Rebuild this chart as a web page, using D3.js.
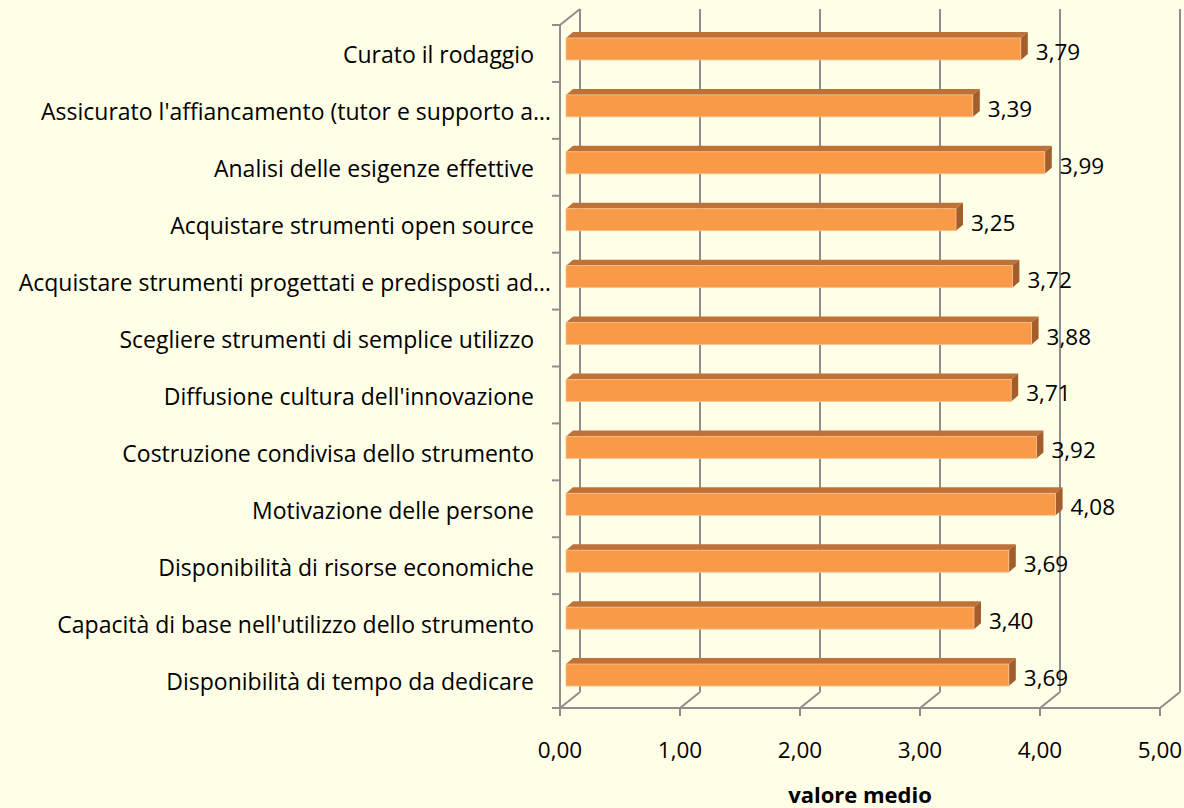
<!DOCTYPE html>
<html>
<head>
<meta charset="utf-8">
<script src="https://cdn.jsdelivr.net/npm/d3@7"></script>
<style>
  body { margin: 0; background: #FFFFE8; }
  text { font-family: "Open Sans", "Noto Sans", sans-serif; fill: #000; }
</style>
</head>
<body>
<div id="plot"></div>
<script>
// data, top to bottom as in the chart
const categories = [
  "Curato il rodaggio",
  "Assicurato l'affiancamento (tutor e supporto a…",
  "Analisi delle esigenze effettive",
  "Acquistare strumenti open source",
  "Acquistare strumenti progettati e predisposti ad…",
  "Scegliere strumenti di semplice utilizzo",
  "Diffusione cultura dell'innovazione",
  "Costruzione condivisa dello strumento",
  "Motivazione delle persone",
  "Disponibilità di risorse economiche",
  "Capacità di base nell'utilizzo dello strumento",
  "Disponibilità di tempo da dedicare"
];
const values = [3.79, 3.39, 3.99, 3.25, 3.72, 3.88, 3.71, 3.92, 4.08, 3.69, 3.40, 3.69];
const xTicks = [0, 1, 2, 3, 4, 5];
const axisTitle = "valore medio";

const w = 1184, h = 808;
const depth = {dx: 20, dy: -16};   // back wall offset
const barDepth = {dx: 7, dy: -6};

const svg = d3.select("#plot").append("svg")
  .attr("width", w).attr("height", h);

svg.append("rect").attr("width", w).attr("height", h).attr("fill", "#FFFFE8");

const x = d3.scaleLinear().domain([0, 5]).range([560, 1160]);
const y = d3.scaleBand().domain(categories).range([25, 708]);

const fmt = v => d3.format(".2f")(v).replace(".", ",");
const grid = "#8E8E8E";

// back wall gridlines
svg.append("g").selectAll("line").data(xTicks).enter().append("line")
  .attr("x1", d => x(d) + depth.dx).attr("x2", d => x(d) + depth.dx)
  .attr("y1", 25 + depth.dy).attr("y2", 708 + depth.dy)
  .attr("stroke", grid).attr("stroke-width", 2);

// floor diagonals
svg.append("g").selectAll("line").data(xTicks).enter().append("line")
  .attr("x1", d => x(d)).attr("x2", d => x(d) + depth.dx)
  .attr("y1", 708).attr("y2", 708 + depth.dy)
  .attr("stroke", grid).attr("stroke-width", 2);

// top-left diagonal of the side wall
svg.append("line")
  .attr("x1", x(0)).attr("y1", 25).attr("x2", x(0) + depth.dx).attr("y2", 25 + depth.dy)
  .attr("stroke", grid).attr("stroke-width", 2);

// front axes
svg.append("line").attr("x1", 560).attr("x2", 560).attr("y1", 25).attr("y2", 709)
  .attr("stroke", grid).attr("stroke-width", 2);
svg.append("line").attr("x1", 559).attr("x2", 1160).attr("y1", 708).attr("y2", 708)
  .attr("stroke", grid).attr("stroke-width", 2);

// category ticks
const yTickPos = d3.range(categories.length + 1).map(i => y.range()[0] + i * y.step());
svg.append("g").selectAll("line").data(yTickPos).enter().append("line")
  .attr("x1", 552).attr("x2", 560).attr("y1", d => d).attr("y2", d => d)
  .attr("stroke", grid).attr("stroke-width", 2);

// value ticks
svg.append("g").selectAll("line").data(xTicks).enter().append("line")
  .attr("x1", d => x(d)).attr("x2", d => x(d)).attr("y1", 708).attr("y2", 716)
  .attr("stroke", grid).attr("stroke-width", 2);

// bars
const bars = svg.append("g").selectAll("g").data(values).enter().append("g");
const x0 = x(0) + 6;
const barTop = (d, i) => y(categories[i]) + y.bandwidth() / 2 - 15.5;
const barH = 22;

bars.append("path") // top face
  .attr("d", (d, i) => {
    const t = barTop(d, i), r = x0 + x(d) - x(0);
    return `M${x0},${t}L${x0 + barDepth.dx},${t + barDepth.dy}L${r + barDepth.dx},${t + barDepth.dy}L${r},${t}Z`;
  })
  .attr("fill", "#BF7238");

bars.append("path") // side face
  .attr("d", (d, i) => {
    const t = barTop(d, i), r = x0 + x(d) - x(0);
    return `M${r},${t}L${r + barDepth.dx},${t + barDepth.dy}L${r + barDepth.dx},${t + barH + barDepth.dy}L${r},${t + barH}Z`;
  })
  .attr("fill", "#A35E2C");

bars.append("rect") // front face
  .attr("x", x0)
  .attr("y", (d, i) => barTop(d, i))
  .attr("width", d => x(d) - x(0))
  .attr("height", barH)
  .attr("fill", "#F99A48")
  .attr("stroke", "#FBC08C").attr("stroke-width", 0.8);

// value labels
svg.append("g").selectAll("text").data(values).enter().append("text")
  .attr("x", d => x0 + x(d) - x(0) + barDepth.dx + 8)
  .attr("y", (d, i) => y(categories[i]) + y.bandwidth() / 2 + 6.5)
  .style("font-size", "22.5px")
  .text(d => fmt(d));

// category labels
svg.append("g").selectAll("text").data(categories).enter().append("text")
  .attr("x", d => d.endsWith("…") ? 551 : 534)
  .attr("y", d => y(d) + y.bandwidth() / 2 + 10)
  .attr("text-anchor", "end")
  .style("font-size", "23px")
  .text(d => d);

// x tick labels
svg.append("g").selectAll("text").data(xTicks).enter().append("text")
  .attr("x", d => x(d))
  .attr("y", 758)
  .attr("text-anchor", "middle")
  .style("font-size", "22.5px")
  .text(d => fmt(d));

svg.append("text")
  .attr("x", 860).attr("y", 803)
  .attr("text-anchor", "middle")
  .style("font-size", "22px")
  .style("font-weight", "bold")
  .text(axisTitle);
</script>
</body>
</html>
